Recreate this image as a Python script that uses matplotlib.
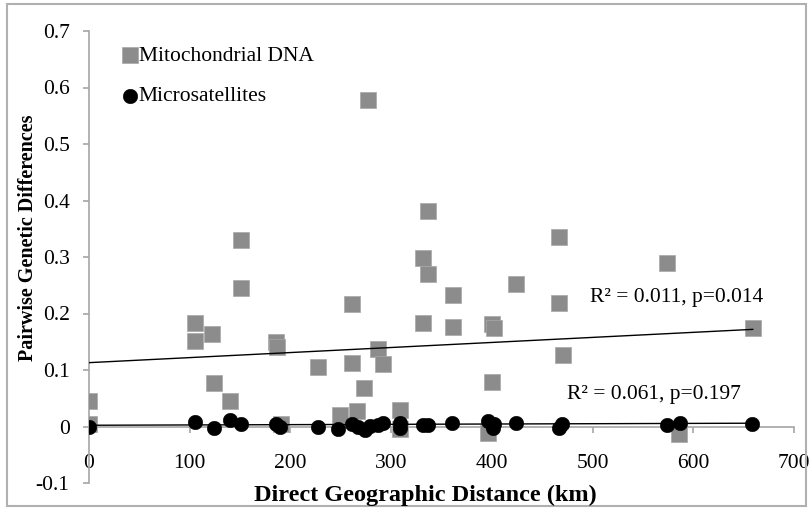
import numpy as np
import matplotlib
matplotlib.use("Agg")
import matplotlib.pyplot as plt
from matplotlib.patches import Rectangle

# ---- data ----
mt_x = [0, 0, 105, 105, 122, 124, 140, 151, 151, 186, 187, 191, 227, 249, 261, 261,
        266, 273, 277, 287, 292, 309, 309, 332, 332, 337, 337, 361, 361, 396, 400,
        400, 402, 424, 467, 467, 471, 574, 586, 659]
mt_y = [0.045, 0.005, 0.183, 0.152, 0.164, 0.077, 0.045, 0.330, 0.245, 0.150, 0.140,
        0.005, 0.106, 0.020, 0.216, 0.112, 0.028, 0.069, 0.578, 0.138, 0.110, 0.030,
        -0.005, 0.298, 0.183, 0.381, 0.270, 0.232, 0.176, -0.012, 0.182, 0.078, 0.174,
        0.253, 0.335, 0.218, 0.126, 0.289, -0.014, 0.174]

ms_x = [0, 105, 124, 140, 151, 186, 190, 227, 247, 261, 267, 274, 279, 287, 292, 309,
        309, 332, 337, 360, 396, 401, 402, 424, 467, 470, 574, 587, 658]
ms_y = [0.0, 0.008, -0.003, 0.011, 0.005, 0.004, -0.001, 0.0, -0.004, 0.005, -0.001,
        -0.006, 0.001, 0.003, 0.007, 0.006, -0.003, 0.002, 0.002, 0.007, 0.010, -0.002,
        0.004, 0.007, -0.003, 0.004, 0.002, 0.007, 0.005]

# trendline coefficients as shown in the reference (intercept, slope)
mt_fit = (0.113, 0.0000894)
ms_fit = (0.0022, 0.0000055)

x_ticks = [0, 100, 200, 300, 400, 500, 600, 700]
y_ticks = [-0.1, 0, 0.1, 0.2, 0.3, 0.4, 0.5, 0.6, 0.7]
series_labels = ["Mitochondrial DNA", "Microsatellites"]
fit_labels = ["R\u00b2 = 0.011, p=0.014", "R\u00b2 = 0.061, p=0.197"]
x_title = "Direct Geographic Distance (km)"
y_title = "Pairwise Genetic Differences"

plt.rcParams['font.family'] = ['Liberation Serif', 'DejaVu Serif']
plt.rcParams['axes.unicode_minus'] = False

W, H = 811, 508
fig = plt.figure(figsize=(W / 100, H / 100), dpi=100)
ax = fig.add_axes([89 / W, 1 - 483 / H, (794 - 89) / W, (483 - 31) / H])

axis_gray = '#A6A6A6'
sq_color = '#8C8C8C'

ax.scatter(mt_x, mt_y, marker='s', s=11.5 ** 2, color=sq_color, edgecolors='#A8A8A8',
           linewidths=0.5, zorder=3, label=series_labels[0])
ax.scatter(ms_x, ms_y, marker='o', s=10.5 ** 2, color='black', edgecolors='black',
           linewidths=0.3, zorder=4, label=series_labels[1])

# linear trendlines over the data range
for xs, (b, k) in ((mt_x, mt_fit), (ms_x, ms_fit)):
    xx = np.array([min(xs), max(xs)])
    ax.plot(xx, b + k * xx, color='black', lw=1.0, zorder=5)

ax.set_xlim(0, 700)
ax.set_ylim(-0.1, 0.7)
ax.set_xticks(x_ticks)
ax.set_yticks(y_ticks)
ax.set_xticklabels([f"{v:g}" for v in x_ticks])
ax.set_yticklabels([f"{v:g}" for v in y_ticks])

for s in ('top', 'right'):
    ax.spines[s].set_visible(False)
ax.spines['left'].set_color(axis_gray)
ax.spines['left'].set_linewidth(1.2)
ax.spines['bottom'].set_position(('data', 0))
ax.spines['bottom'].set_color(axis_gray)
ax.spines['bottom'].set_linewidth(1.2)
ax.spines['bottom'].set_zorder(2)

ax.tick_params(axis='y', direction='out', length=4, width=1.2, color=axis_gray,
               labelsize=15.5, pad=10)
ax.tick_params(axis='x', direction='out', length=4, width=1.2, color=axis_gray,
               labelsize=15.5, pad=16)

fig.text(28 / W, 1 - 238 / H, y_title, rotation=90, ha='center', va='center',
         fontsize=14.5, fontweight='bold')
fig.text(425 / W, 1 - 495 / H, x_title, ha='center', va='center',
         fontsize=17.5, fontweight='bold')

ax.text(497, 0.228, fit_labels[0], fontsize=15.5, ha='left', va='center')
ax.text(475, 0.056, fit_labels[1], fontsize=15.5, ha='left', va='center')

leg = ax.legend(loc='upper left', bbox_to_anchor=(26 / (794 - 89), 1.0 - 6 / 452),
                frameon=False, fontsize=15.5, handlelength=0.6, handletextpad=0.1,
                labelspacing=0.95, borderaxespad=0.0, markerscale=1.0)

fig.patches.append(Rectangle((7 / W, 2 / H), (806 - 7) / W, (504 - 2) / H,
                             transform=fig.transFigure, fill=False,
                             edgecolor='#B0B0B0', linewidth=1.5))

fig.savefig('out.png', dpi=100)
